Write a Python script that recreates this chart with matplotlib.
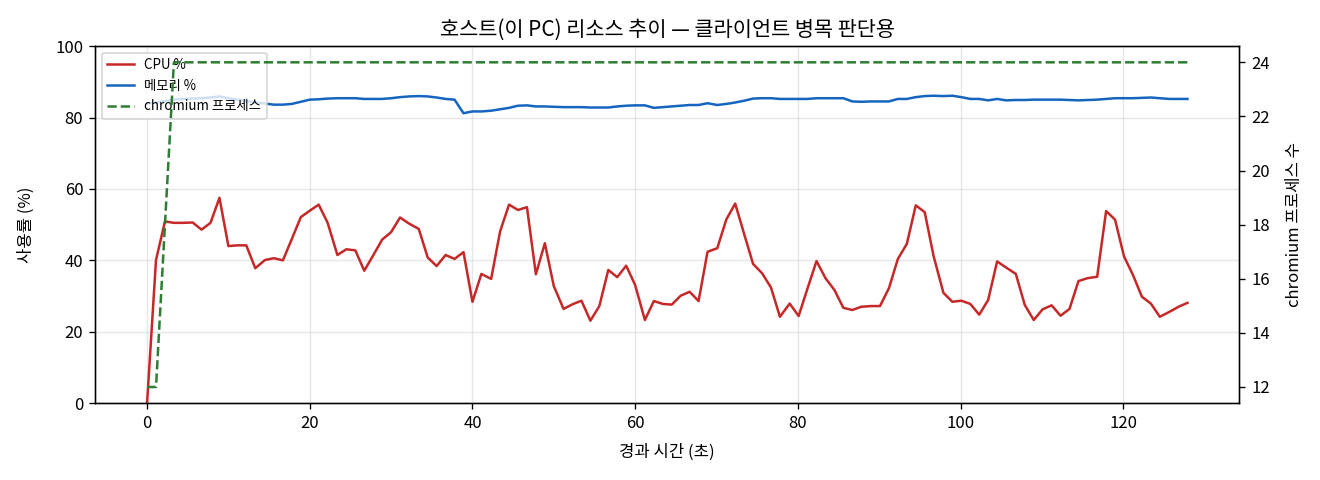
import matplotlib
matplotlib.use("Agg")
import matplotlib.pyplot as plt

plt.rcParams['font.family'] = ['Noto Sans CJK KR', 'DejaVu Sans']
plt.rcParams['axes.unicode_minus'] = False

# elapsed seconds per sample
elapsed = [
    0.0, 1.1, 2.2, 3.3, 4.4, 5.6, 6.7, 7.8, 8.9, 10.0,
    11.1, 12.2, 13.3, 14.5, 15.6, 16.7, 17.8, 18.9, 20.0, 21.1,
    22.2, 23.4, 24.5, 25.6, 26.7, 27.8, 28.9, 30.0, 31.1, 32.2,
    33.4, 34.5, 35.6, 36.7, 37.8, 38.9, 40.0, 41.1, 42.3, 43.4,
    44.5, 45.6, 46.7, 47.8, 48.9, 50.0, 51.2, 52.3, 53.4, 54.5,
    55.6, 56.7, 57.8, 58.9, 60.0, 61.2, 62.3, 63.4, 64.5, 65.6,
    66.7, 67.8, 68.9, 70.1, 71.2, 72.3, 73.4, 74.5, 75.6, 76.7,
    77.8, 79.0, 80.1, 81.2, 82.3, 83.4, 84.5, 85.6, 86.7, 87.8,
    89.0, 90.1, 91.2, 92.3, 93.4, 94.5, 95.6, 96.7, 97.9, 99.0,
    100.1, 101.2, 102.3, 103.4, 104.5, 105.6, 106.8, 107.9, 109.0, 110.1,
    111.2, 112.3, 113.4, 114.5, 115.6, 116.8, 117.9, 119.0, 120.1, 121.2,
    122.3, 123.4, 124.5, 125.7, 126.8, 127.9,
]

cpu = [
    0.0, 40.1, 50.9, 50.5, 50.5, 50.6, 48.6, 50.5, 57.5, 44.0,
    44.2, 44.2, 37.8, 40.1, 40.6, 40.0, 46.0, 52.1, 53.9, 55.6,
    50.5, 41.5, 43.1, 42.8, 37.1, 41.4, 45.8, 47.9, 52.0, 50.3,
    48.8, 40.8, 38.4, 41.5, 40.4, 42.3, 28.4, 36.2, 34.8, 48.1,
    55.6, 54.1, 54.9, 36.1, 44.8, 32.8, 26.4, 27.7, 28.7, 23.1,
    27.2, 37.3, 35.3, 38.5, 33.1, 23.3, 28.6, 27.8, 27.6, 30.1,
    31.2, 28.6, 42.4, 43.4, 51.4, 55.9, 47.4, 39.0, 36.4, 32.4,
    24.2, 27.9, 24.4, 32.2, 39.8, 35.0, 31.7, 26.7, 26.1, 27.0,
    27.2, 27.2, 32.2, 40.4, 44.6, 55.4, 53.5, 41.1, 30.9, 28.4,
    28.7, 27.8, 24.8, 28.9, 39.7, 38.0, 36.2, 27.5, 23.3, 26.3,
    27.4, 24.5, 26.4, 34.2, 35.0, 35.4, 53.8, 51.4, 41.1, 35.9,
    29.8, 27.9, 24.2, 25.6, 27.0, 28.1,
]

memory = [
    83.9, 84.2, 84.6, 85.0, 85.2, 85.3, 85.4, 85.6, 85.9, 85.4,
    85.0, 84.6, 84.2, 83.9, 83.6, 83.6, 83.8, 84.4, 85.0, 85.1,
    85.3, 85.4, 85.4, 85.4, 85.2, 85.2, 85.2, 85.4, 85.7, 85.9,
    86.0, 85.9, 85.6, 85.2, 85.0, 81.2, 81.7, 81.7, 81.9, 82.3,
    82.7, 83.3, 83.4, 83.1, 83.1, 83.0, 82.9, 82.9, 82.9, 82.8,
    82.8, 82.8, 83.1, 83.3, 83.4, 83.4, 82.7, 82.9, 83.1, 83.3,
    83.5, 83.5, 84.0, 83.5, 83.8, 84.2, 84.7, 85.3, 85.4, 85.4,
    85.2, 85.2, 85.2, 85.2, 85.4, 85.4, 85.4, 85.4, 84.5, 84.4,
    84.5, 84.5, 84.5, 85.2, 85.2, 85.7, 86.0, 86.1, 86.0, 86.1,
    85.7, 85.2, 85.2, 84.8, 85.2, 84.8, 84.9, 84.9, 85.0, 85.0,
    85.0, 85.0, 84.9, 84.8, 84.9, 85.0, 85.2, 85.4, 85.4, 85.4,
    85.5, 85.6, 85.4, 85.2, 85.2, 85.2,
]

chromium = [12, 12, 18] + [24] * 113

fig, ax = plt.subplots(figsize=(11, 4), dpi=120)
ax2 = ax.twinx()

l1, = ax.plot(elapsed, cpu, color="#c62828", lw=1.5, label="CPU %")
l2, = ax.plot(elapsed, memory, color="#1565c0", lw=1.5, label="메모리 %")
l3, = ax2.plot(elapsed, chromium, color="#2e7d32", lw=1.5, ls="--", label="chromium 프로세스")

ax.set_ylim(0, 100)
ax.set_xlabel("경과 시간 (초)", labelpad=7)
ax.set_ylabel("사용률 (%)", labelpad=12)
ax2.set_ylabel("chromium 프로세스 수", labelpad=10)
ax.set_title("호스트(이 PC) 리소스 추이 — 클라이언트 병목 판단용", fontsize=12.5)
ax.grid(True, alpha=0.3)
ax.legend(handles=[l1, l2, l3], loc="upper left", fontsize=8)

fig.subplots_adjust(left=0.072, right=0.939, top=0.904, bottom=0.160)
fig.savefig("out.png")
